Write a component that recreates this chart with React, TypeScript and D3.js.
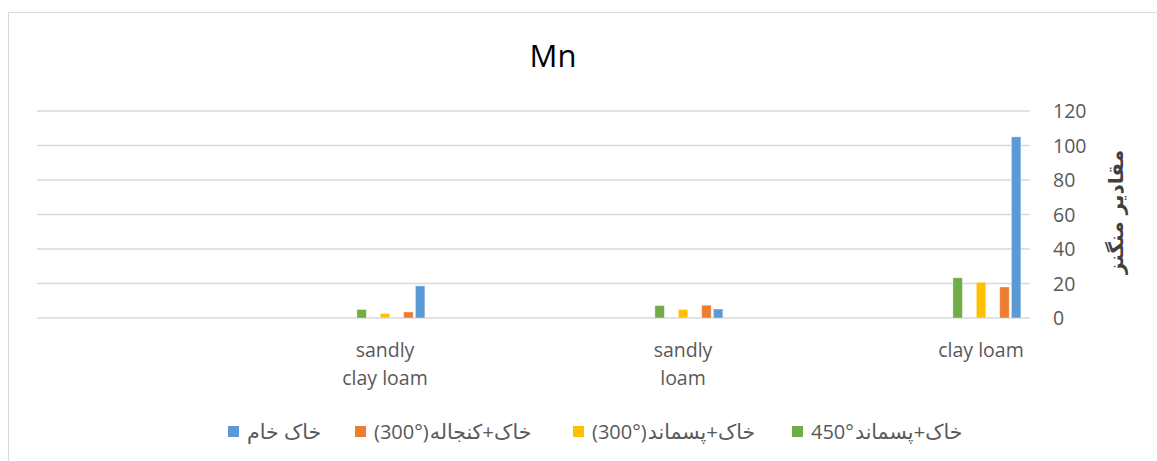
import React, { useLayoutEffect, useRef, useState } from "react";
import * as d3 from "d3";

// ---- data ----
const categories = ["clay loam", "sandly loam", "sandly clay loam"]; // logical order (axis reversed, RTL)
const categoryLines = [["clay loam"], ["sandly", "loam"], ["sandly", "clay loam"]];
const seriesNames = ["خاک خام", "(300°)خاک+کنجاله", "(300°)خاک+پسماند", "450°خاک+پسماند"];
const seriesColors = ["#5B9BD5", "#ED7D31", "#FFC000", "#70AD47"];
const seriesSlots = [0, 1, 3, 5]; // original chart had 6 series slots, two empty
const khakKham = [105, 5.2, 18.6];
const khakKonjaleh300 = [18, 7.4, 3.5];
const khakPasmand300 = [20.7, 4.9, 2.6];
const khakPasmand450 = [23.3, 7.2, 4.9];
const seriesValues = [khakKham, khakKonjaleh300, khakPasmand300, khakPasmand450];
const yTicks = [0, 20, 40, 60, 80, 100, 120];
const title = "Mn";
const yTitle = "مقادیر منگنز";

const W = 1157;
const H = 461;
const FONT = "'Open Sans', 'DejaVu Sans', sans-serif";

function splitName(n: string): [string, string] {
  const m = n.match(/^([^\u0600-\u06FF]*)(.*)$/);
  return m ? [m[1], m[2]] : ["", n];
}

export default function App() {
  const x = d3.scaleBand<string>().domain(categories).range([1130, 236]).padding(0);
  const bw = x.bandwidth();
  const xs = d3
    .scaleBand<number>()
    .domain(d3.range(6))
    .range([bw / 2 + 41, bw / 2 - 29.2])
    .paddingInner(0.19)
    .paddingOuter(0.095);
  const y = d3.scaleLinear().domain([0, 120]).range([318, 111]);
  const gridX0 = 37;
  const gridX1 = 1030;

  const legendSquareX = [228, 355, 573, 792];
  const legendY = 431.5;

  const prefRefs = useRef<(SVGTextElement | null)[]>([]);
  const [prefW, setPrefW] = useState<number[]>(seriesNames.map(() => 0));
  useLayoutEffect(() => {
    setPrefW(prefRefs.current.map((el) => (el ? el.getComputedTextLength() : 0)));
  }, []);

  return (
    <svg
      width={W}
      height={H}
      style={{ position: "absolute", left: 0, top: 0, background: "#fff" }}
      fontFamily={FONT}
    >
      <rect x={8.5} y={12.5} width={1160} height={460} fill="#fff" stroke="#d9d9d9" strokeWidth={1} />
      <text x={553} y={66.5} textAnchor="middle" fontSize={31} fill="#000">
        {title}
      </text>
      {yTicks.map((t) => (
        <g key={t}>
          <line x1={gridX0} x2={gridX1} y1={y(t)} y2={y(t)} stroke="#d9d9d9" strokeWidth={1.5} />
          <text x={1053} y={y(t)} dy="0.36em" fontSize={19.5} fill="#595959">
            {t}
          </text>
        </g>
      ))}
      {categories.map((c, ci) => (
        <g key={c} transform={`translate(${x(c)},0)`}>
          {seriesValues.map((vals, si) => {
            const xx = xs(seriesSlots[si]) as number;
            return (
              <rect
                key={si}
                x={xx}
                y={y(vals[ci])}
                width={xs.bandwidth()}
                height={y(0) - y(vals[ci])}
                fill={seriesColors[si]}
                stroke="#ffffff"
                strokeOpacity={0.45}
                strokeWidth={0.8}
              />
            );
          })}
          {categoryLines[ci].map((ln, li) => (
            <text
              key={li}
              x={bw / 2}
              y={357 + li * 28}
              textAnchor="middle"
              fontSize={19.5}
              fill="#595959"
            >
              {ln}
            </text>
          ))}
        </g>
      ))}
      <text
        transform={`translate(1116,212) rotate(-90)`}
        textAnchor="middle"
        dy="0.35em"
        fontSize={20}
        fontWeight="bold"
        fontFamily="'DejaVu Sans', sans-serif"
        fill="#404040"
      >
        {yTitle}
      </text>
      {seriesNames.map((n, i) => {
        const [pre, ar] = splitName(n);
        const tx = legendSquareX[i] + 19;
        return (
          <g key={n}>
            <rect x={legendSquareX[i]} y={legendY - 5.5} width={11} height={11} fill={seriesColors[i]} />
            <text
              ref={(el) => {
                prefRefs.current[i] = el;
              }}
              x={tx}
              y={legendY}
              dy="0.36em"
              fontSize={20}
              fill="#595959"
            >
              {pre}
            </text>
            <text
              x={tx + prefW[i] + (pre ? 1 : 0)}
              y={legendY}
              dy="0.36em"
              fontSize={20.5}
              fill="#595959"
            >
              {ar}
            </text>
          </g>
        );
      })}
    </svg>
  );
}
